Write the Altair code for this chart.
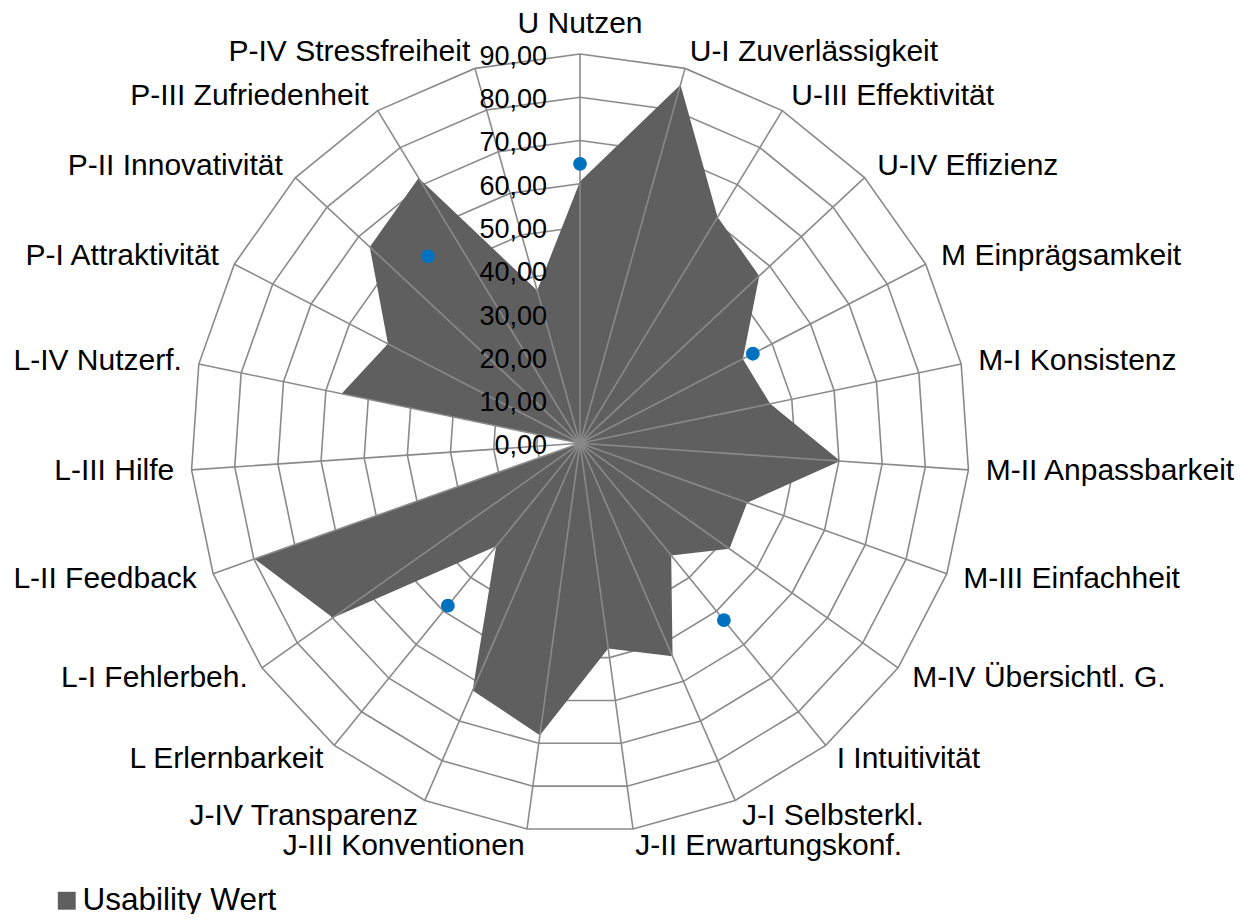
import altair as alt
import pandas as pd

# ---------------- data ----------------
categories = [
    "U Nutzen", "U-I Zuverlässigkeit", "U-III Effektivität", "U-IV Effizienz",
    "M Einprägsamkeit", "M-I Konsistenz", "M-II Anpassbarkeit", "M-III Einfachheit",
    "M-IV Übersichtl. G.", "I Intuitivität", "J-I Selbsterkl.", "J-II Erwartungskonf.",
    "J-III Konventionen", "J-IV Transparenz", "L Erlernbarkeit", "L-I Fehlerbeh.",
    "L-II Feedback", "L-III Hilfe", "L-IV Nutzerf.", "P-I Attraktivität",
    "P-II Innovativität", "P-III Zufriedenheit", "P-IV Stressfreiheit",
]
values = [60.5, 86.1, 61.2, 56.7, 42.4, 44.9, 60.3, 41.0, 42.3, 33.4, 53.7, 47.9,
          68.1, 62.3, 30.7, 69.9, 79.8, 0.0, 56.3, 50.0, 66.5, 71.8, 36.7]
series_name = "Usability Wert"

# blue markers: position on the category circle (index units) and value
marker_positions = [0, 4, 9, 14, 20.5]
marker_values = [64.6, 45.0, 52.7, 48.4, 55.7]

ring_levels = [10, 20, 30, 40, 50, 60, 70, 80, 90]
tick_values = [0, 10, 20, 30, 40, 50, 60, 70, 80, 90]
tick_labels = ["0,00", "10,00", "20,00", "30,00", "40,00", "50,00",
               "60,00", "70,00", "80,00", "90,00"]

N = len(categories)
MAX_V = 90
LABEL_R = 94
FONT = "Liberation Sans"

# ---------------- tables ----------------
df_main = pd.DataFrame({"pos": list(range(N)), "cat": categories, "v": values,
                        "series": [series_name] * N})
df_rings = pd.DataFrame([{"pos": i, "v": lvl} for lvl in ring_levels for i in range(N)])
df_spokes = pd.DataFrame({"pos": list(range(N)), "v": [MAX_V] * N})
df_marks = pd.DataFrame({"pos": marker_positions, "v": marker_values})
df_ticks = pd.DataFrame({"v": tick_values, "lab": tick_labels})

# ---------------- scales (value units) ----------------
S = 4.326  # px per unit
x0 = -(580 - 8) / S
x1 = x0 + 1232 / S
y1 = (443.3 - 8) / S
y0 = y1 - 906 / S
xs = alt.Scale(domain=[x0, x1], nice=False, zero=False)
ys = alt.Scale(domain=[y0, y1], nice=False, zero=False)

ang = f"datum.pos * 2 * PI / {N}"


def polar(ch):
    return ch.transform_calculate(ang=ang).transform_calculate(
        px="datum.v * sin(datum.ang)", py="datum.v * cos(datum.ang)")


X = alt.X("px:Q", scale=xs, axis=None)
Y = alt.Y("py:Q", scale=ys, axis=None)

grid_color = "#8a8a8a"

rings = polar(alt.Chart(df_rings)).mark_line(
    interpolate="linear-closed", stroke=grid_color, strokeWidth=1.6
).encode(x=X, y=Y, detail="v:N", order="pos:Q")

area = polar(alt.Chart(df_main)).mark_line(
    interpolate="linear-closed", filled=True, strokeWidth=0
).encode(
    x=X, y=Y, order="pos:Q",
    color=alt.Color("series:N",
                    scale=alt.Scale(domain=[series_name], range=["#5f5f5f"]),
                    legend=alt.Legend(title=None, orient="none", legendX=43, legendY=877,
                                      symbolType="square", symbolSize=320,
                                      symbolStrokeWidth=0, labelFontSize=31.5,
                                      labelFont=FONT, labelColor="black",
                                      labelOffset=0, labelLimit=0, padding=0)),
)

spokes = polar(alt.Chart(df_spokes)).transform_calculate(zero="0").mark_rule(
    stroke=grid_color, strokeWidth=1.6
).encode(x=alt.X("zero:Q", scale=xs, axis=None), y=alt.Y("zero:Q", scale=ys, axis=None),
         x2="px:Q", y2="py:Q")

dots = polar(alt.Chart(df_marks)).mark_circle(size=190, color="#0071BE", opacity=1).encode(
    x=X, y=Y)

ticks = alt.Chart(df_ticks).transform_calculate(px="-7.6", py="datum.v").mark_text(
    align="right", baseline="middle", dy=3, fontSize=27, font=FONT, color="black"
).encode(x=X, y=Y, text="lab:N")

lab_base = alt.Chart(df_main).transform_calculate(ang=ang).transform_calculate(
    px=f"{LABEL_R} * sin(datum.ang)", py=f"{LABEL_R} * cos(datum.ang)", s="sin(datum.ang)")

lab_right = lab_base.transform_filter("datum.s > 0.05").mark_text(
    align="left", baseline="middle", fontSize=30, font=FONT, color="black"
).encode(x=X, y=Y, text="cat:N")
lab_left = lab_base.transform_filter("datum.s < -0.05").mark_text(
    align="right", baseline="middle", fontSize=30, font=FONT, color="black"
).encode(x=X, y=Y, text="cat:N")
lab_top = lab_base.transform_filter("abs(datum.s) <= 0.05").mark_text(
    align="center", baseline="bottom", dy=2, fontSize=30, font=FONT, color="black"
).encode(x=X, y=Y, text="cat:N")

chart = alt.layer(rings, area, spokes, dots, ticks, lab_right, lab_left, lab_top).properties(
    width=1232, height=906, padding=0, autosize=alt.AutoSizeParams(type="none"),
    background="white"
).configure_view(stroke=None)

chart.save("out.html", embed_options={"renderer": "svg", "actions": False})
